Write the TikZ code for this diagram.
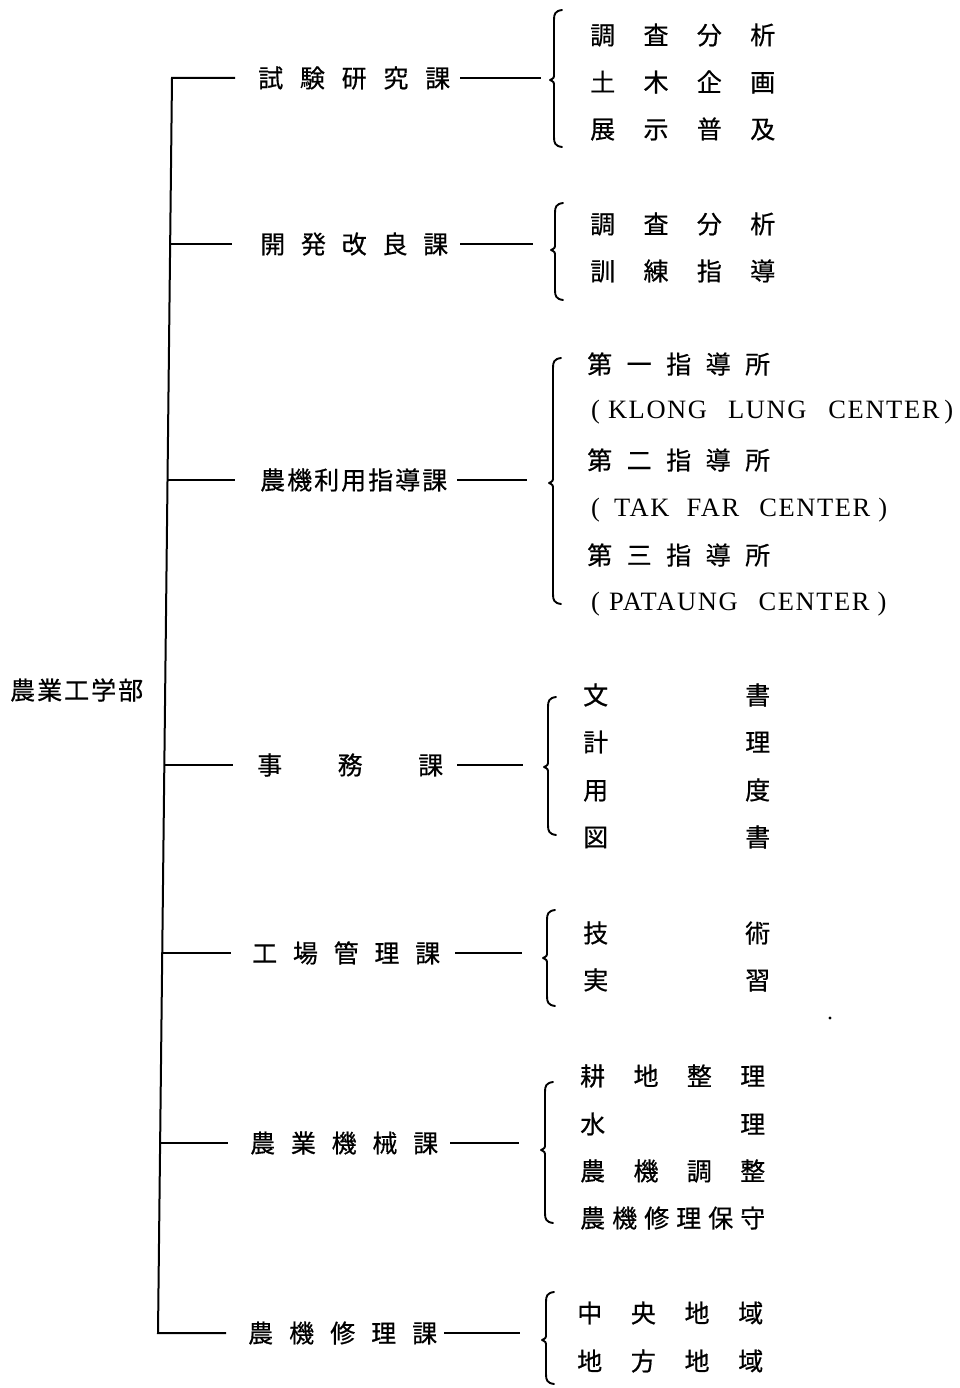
\documentclass[tikz,border=0pt]{standalone}
\usepackage{fontspec}
\setmainfont{Noto Sans CJK JP}
\newfontfamily\cjkf[FakeBold=0.6]{Noto Sans CJK JP}
\newfontfamily\latf[LetterSpace=6]{Liberation Serif}
\newcommand\sprd[2]{\makebox[#1pt]{#2}}
\newcommand\mybrace[4]{%
  \draw[brc] ({#1+8},#2) .. controls ({#1+1},{#2+1}) and (#1,{#2+4}) .. (#1,{#2+10})
    -- (#1,{#3-6}) .. controls (#1,{#3-2}) .. ({#1-4},#3)
    .. controls (#1,{#3+2}) .. (#1,{#3+6})
    -- (#1,{#4-10}) .. controls (#1,{#4-4}) and ({#1+1},{#4-1}) .. ({#1+8},#4);}
\tikzset{
  itm/.style={inner sep=0pt, anchor=west, font=\cjkf\fontsize{25}{30}\selectfont},
  lat/.style={inner sep=0pt, anchor=west, font=\latf\fontsize{26.5}{30}\selectfont},
  ln/.style={line width=2pt},
  brc/.style={line width=1.9pt, line cap=round, line join=round}
}
\begin{document}
\begin{tikzpicture}[x=1pt,y=-1pt]
\useasboundingbox (0,0) rectangle (960,1388);
% root
\node[itm] (r) at (10,690) {\sprd{133}{農\hfill 業\hfill 工\hfill 学\hfill 部}};
% departments
\node[itm] (d1) at (258,78) {\sprd{192}{試\hfill 験\hfill 研\hfill 究\hfill 課}};
\node[itm] (d2) at (260,244) {\sprd{188}{開\hfill 発\hfill 改\hfill 良\hfill 課}};
\node[itm] (d3) at (260,480) {\sprd{187}{農\hfill 機\hfill 利\hfill 用\hfill 指\hfill 導\hfill 課}};
\node[itm] (d4) at (257,765) {\sprd{186}{事\hfill 務\hfill 課}};
\node[itm] (d5) at (252,953) {\sprd{188}{工\hfill 場\hfill 管\hfill 理\hfill 課}};
\node[itm] (d6) at (250,1143) {\sprd{188}{農\hfill 業\hfill 機\hfill 械\hfill 課}};
\node[itm] (d7) at (248,1333) {\sprd{189}{農\hfill 機\hfill 修\hfill 理\hfill 課}};
% trunk points
\coordinate (t1) at (172,78);
\coordinate (t2) at (170.1,244);
\coordinate (t3) at (167.5,480);
\coordinate (t4) at (164.3,765);
\coordinate (t5) at (162.2,953);
\coordinate (t6) at (160.1,1143);
\coordinate (t7) at (158,1333);
\draw[ln, line join=miter] ([xshift=-23pt]d1.west) -- (t1) -- (t7) -- ([xshift=-22pt]d7.west);
\draw[ln, shorten >=28pt] (t2) -- (d2.west);
\draw[ln, shorten >=25pt] (t3) -- (d3.west);
\draw[ln, shorten >=24pt] (t4) -- (d4.west);
\draw[ln, shorten >=21pt] (t5) -- (d5.west);
\draw[ln, shorten >=22pt] (t6) -- (d6.west);
% line ends before braces
\coordinate (e1) at (541,78);
\coordinate (e2) at (533,244);
\coordinate (e3) at (527,480);
\coordinate (e4) at (523,765);
\coordinate (e5) at (522,953);
\coordinate (e6) at (519,1143);
\coordinate (e7) at (520,1333);
\draw[ln, shorten <=10pt] (d1.east) -- (e1);
\draw[ln, shorten <=12pt] (d2.east) -- (e2);
\draw[ln, shorten <=10pt] (d3.east) -- (e3);
\draw[ln, shorten <=14pt] (d4.east) -- (e4);
\draw[ln, shorten <=15pt] (d5.east) -- (e5);
\draw[ln, shorten <=12pt] (d6.east) -- (e6);
\draw[ln, shorten <=7pt] (d7.east) -- (e7);
% braces
\mybrace{554}{10}{80}{147}
\mybrace{555}{203}{250}{300}
\mybrace{553}{358}{483}{604}
\mybrace{548}{697}{767}{835}
\mybrace{547}{910}{958}{1006}
\mybrace{545}{1082}{1150}{1223}
\mybrace{546}{1292}{1340}{1384}
% group 1
\node[itm] (a1) at (590,35) {\sprd{185}{調\hfill 査\hfill 分\hfill 析}};
\node[itm] (a2) at (590,82) {\sprd{185}{土\hfill 木\hfill 企\hfill 画}};
\node[itm] (a3) at (590,129) {\sprd{185}{展\hfill 示\hfill 普\hfill 及}};
% group 2
\node[itm] (b1) at (590,224) {\sprd{185}{調\hfill 査\hfill 分\hfill 析}};
\node[itm] (b2) at (590,271) {\sprd{185}{訓\hfill 練\hfill 指\hfill 導}};
% group 3
\node[itm] (c1) at (587,364) {\sprd{183}{第\hfill 一\hfill 指\hfill 導\hfill 所}};
\node[lat] (c2) at (591,412) {(\hspace{8pt}KLONG\hspace{21pt}LUNG\hspace{22pt}CENTER\hspace{5pt})};
\node[itm] (c3) at (587,460) {\sprd{183}{第\hfill 二\hfill 指\hfill 導\hfill 所}};
\node[lat] (c4) at (591,510) {(\hspace{14pt}TAK\hspace{17pt}FAR\hspace{20pt}CENTER\hspace{8pt})};
\node[itm] (c5) at (587,555) {\sprd{183}{第\hfill 三\hfill 指\hfill 導\hfill 所}};
\node[lat] (c6) at (591,604) {(\hspace{9pt}PATAUNG\hspace{21pt}CENTER\hspace{8pt})};
% group 4
\node[itm] (f1) at (583,695) {\sprd{187}{文\hfill 書}};
\node[itm] (f2) at (583,742) {\sprd{187}{計\hfill 理}};
\node[itm] (f3) at (583,790) {\sprd{187}{用\hfill 度}};
\node[itm] (f4) at (583,837) {\sprd{187}{図\hfill 書}};
% group 5
\node[itm] (g1) at (583,933) {\sprd{187}{技\hfill 術}};
\node[itm] (g2) at (583,980) {\sprd{187}{実\hfill 習}};
% group 6
\node[itm] (h1) at (580,1076) {\sprd{185}{耕\hfill 地\hfill 整\hfill 理}};
\node[itm] (h2) at (580,1124) {\sprd{185}{水\hfill 理}};
\node[itm] (h3) at (580,1171) {\sprd{185}{農\hfill 機\hfill 調\hfill 整}};
\node[itm] (h4) at (580,1218) {\sprd{185}{農\hfill 機\hfill 修\hfill 理\hfill 保\hfill 守}};
% group 7
\node[itm] (k1) at (577,1313) {\sprd{186}{中\hfill 央\hfill 地\hfill 域}};
\node[itm] (k2) at (577,1361) {\sprd{186}{地\hfill 方\hfill 地\hfill 域}};
% stray mark
\fill (830,1018) circle (1.6pt);
\end{tikzpicture}
\end{document}
